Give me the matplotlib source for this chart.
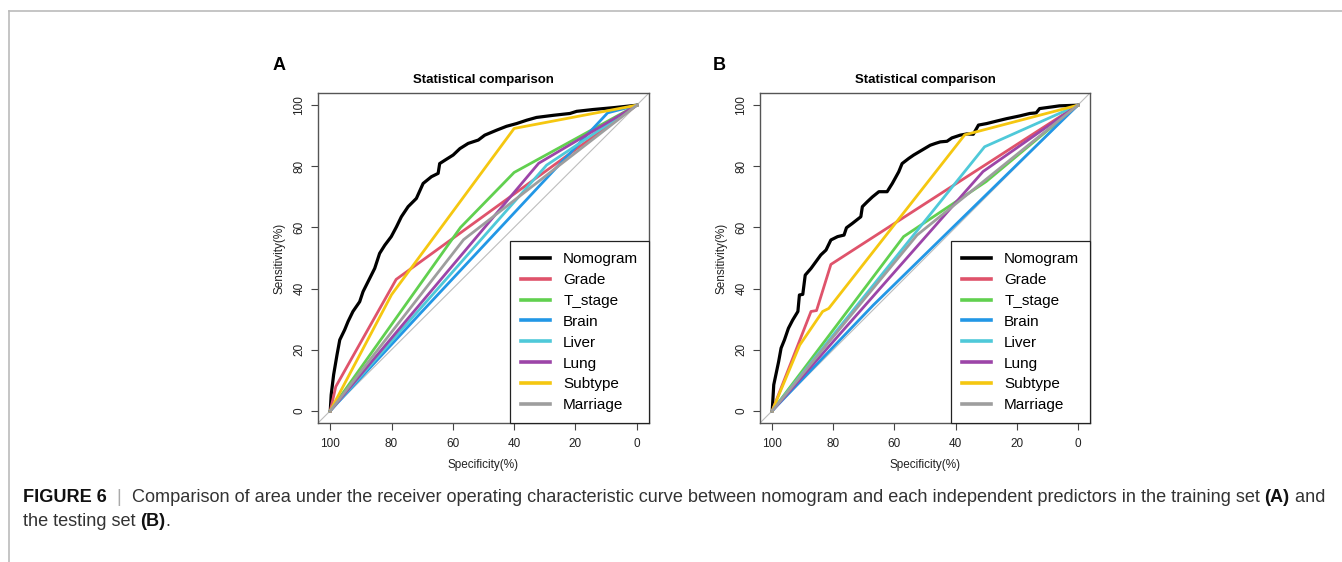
import matplotlib
matplotlib.use("Agg")
import matplotlib.pyplot as plt
from matplotlib.lines import Line2D

plt.rcParams['font.family'] = ['Liberation Sans', 'DejaVu Sans']

# ---- data (specificity %, sensitivity %) ----
labels = ['Nomogram', 'Grade', 'T_stage', 'Brain', 'Liver', 'Lung', 'Subtype', 'Marriage']
colors = ['#000000', '#DF536B', '#61D04F', '#2297E6', '#4FC9D9', '#9C45A8', '#F5C710', '#9E9E9E']

# training set (A)
spec_nom_a = [100, 99.7, 98.9, 97.8, 96.9, 95.3, 94.2, 92.6, 90.4, 89.3, 87.1, 85.5, 83.9, 82.2,
              80.1, 78.4, 76.8, 74.6, 71.9, 69.7, 67.0, 64.8, 64.3, 62.6, 59.9, 57.7, 55.0, 51.7,
              49.6, 45.8, 42.5, 39.2, 35.9, 32.7, 27.2, 21.8, 19.6, 14.2, 7.6, 0]
sens_nom_a = [0, 5.2, 11.8, 18.3, 23.2, 26.5, 29.2, 32.5, 35.7, 39.0, 43.4, 46.6, 51.5, 54.2,
              57.0, 60.2, 63.5, 66.8, 69.5, 74.4, 76.6, 77.7, 80.9, 82.0, 83.7, 85.8, 87.5, 88.6,
              90.2, 91.8, 93.1, 94.0, 95.1, 96.0, 96.7, 97.3, 98.0, 98.6, 99.2, 100]
spec_grade_a = [100, 98.2, 78.5, 0]
sens_grade_a = [0, 7.9, 43, 100]
spec_tstage_a = [100, 57.5, 40, 0]
sens_tstage_a = [0, 60, 78, 100]
spec_brain_a = [100, 70.5, 9.5, 0]
sens_brain_a = [0, 32, 97.5, 100]
spec_liver_a = [100, 29.4, 0]
sens_liver_a = [0, 80.4, 100]
spec_lung_a = [100, 32, 0]
sens_lung_a = [0, 81, 100]
spec_subtype_a = [100, 80, 40, 0]
sens_subtype_a = [0, 38, 92.4, 100]
spec_marriage_a = [100, 56.5, 0]
sens_marriage_a = [0, 56, 100]

# testing set (B)
spec_nom_b = [100, 99.5, 98.7, 97.9, 97.1, 96.0, 94.7, 93.3, 91.6, 91.1, 90.0, 89.2, 87.3, 85.7,
              84.1, 82.4, 80.8, 78.6, 76.5, 75.7, 73.8, 71.0, 70.5, 68.9, 67.2, 65.1, 62.4, 60.7,
              58.6, 57.5, 55.3, 53.7, 51.0, 48.3, 46.6, 45.0, 42.8, 41.2, 38.5, 36.3, 34.2, 32.5,
              29.8, 26.6, 23.3, 19.0, 15.7, 13.6, 12.5, 8.1, 6.0, 0]
sens_nom_b = [0, 8.5, 12.3, 16.1, 20.5, 23.2, 27.0, 29.7, 32.5, 37.9, 38.1, 44.4, 46.6, 48.8,
              51.0, 52.6, 55.9, 57.0, 57.5, 59.9, 61.3, 63.5, 66.8, 68.4, 70.0, 71.7, 71.7, 74.4,
              78.2, 80.9, 82.6, 83.7, 85.3, 86.9, 87.5, 88.0, 88.2, 89.3, 90.2, 90.6, 90.5, 93.5,
              94.0, 94.8, 95.6, 96.5, 97.3, 97.5, 98.9, 99.5, 99.8, 100]
spec_grade_b = [100, 87.3, 85.5, 80.8, 0]
sens_grade_b = [0, 32.5, 32.8, 47.9, 100]
spec_tstage_b = [100, 57, 30, 0]
sens_tstage_b = [0, 57, 75, 100]
spec_brain_b = [100, 67, 0]
sens_brain_b = [0, 34.5, 100]
spec_liver_b = [100, 30.5, 0]
sens_liver_b = [0, 86.4, 100]
spec_lung_b = [100, 31, 0]
sens_lung_b = [0, 78.3, 100]
spec_subtype_b = [100, 91, 83.5, 81.5, 37, 0]
sens_subtype_b = [0, 21.5, 32.5, 33.5, 90.3, 100]
spec_marriage_b = [100, 52.6, 0]
sens_marriage_b = [0, 57.5, 100]

curves_a = [(spec_nom_a, sens_nom_a), (spec_grade_a, sens_grade_a), (spec_tstage_a, sens_tstage_a),
            (spec_brain_a, sens_brain_a), (spec_liver_a, sens_liver_a), (spec_lung_a, sens_lung_a),
            (spec_subtype_a, sens_subtype_a), (spec_marriage_a, sens_marriage_a)]
curves_b = [(spec_nom_b, sens_nom_b), (spec_grade_b, sens_grade_b), (spec_tstage_b, sens_tstage_b),
            (spec_brain_b, sens_brain_b), (spec_liver_b, sens_liver_b), (spec_lung_b, sens_lung_b),
            (spec_subtype_b, sens_subtype_b), (spec_marriage_b, sens_marriage_b)]

ticks = [0, 20, 40, 60, 80, 100]

W, H = 1342, 562
fig = plt.figure(figsize=(W / 100, H / 100), dpi=100)


def px_axes(left, top, right, bottom):
    return fig.add_axes([left / W, 1 - bottom / H, (right - left) / W, (bottom - top) / H])


def roc_panel(ax, curves, letter, letter_x):
    ax.set_xlim(104, -4)
    ax.set_ylim(-4, 104)
    ax.axline((100, 0), (0, 100), color='#BDBDBD', lw=0.8, zorder=1)
    for (sp, se), c, lab in zip(curves, colors, labels):
        lw = 2.3 if lab == 'Nomogram' else 2.0
        ax.plot(sp, se, color=c, lw=lw, label=lab, solid_joinstyle='round', zorder=2)
    ax.set_xticks(ticks)
    ax.set_yticks(ticks)
    ax.tick_params(direction='out', length=5, width=0.8, color='#444444',
                   labelsize=8.5, labelcolor='#222222')
    ax.tick_params(axis='x', pad=6)
    ax.tick_params(axis='y', pad=4)
    for t in ax.get_yticklabels():
        t.set_rotation(90)
        t.set_va('center')
    for s in ax.spines.values():
        s.set_color('#555555')
        s.set_linewidth(1.0)
    ax.set_xlabel('Specificity(%)', fontsize=8.5, color='#222222', labelpad=6)
    ax.set_ylabel('Sensitivity(%)', fontsize=8.5, color='#222222', labelpad=6)
    ax.set_title('Statistical comparison', fontsize=9.5, fontweight='bold', pad=7)
    leg = ax.legend(loc='lower right', bbox_to_anchor=(1, 0), borderaxespad=0,
                    frameon=True, fancybox=False, edgecolor='#222222', framealpha=1,
                    fontsize=11, handlelength=1.9, handletextpad=0.85,
                    labelspacing=0.45, borderpad=0.7)
    leg.get_frame().set_linewidth(0.9)
    for ln in leg.get_lines():
        ln.set_linewidth(2.6)
    fig.text(letter_x / W, 1 - 66 / H, letter, fontsize=13, fontweight='bold',
             ha='center', va='center')


ax_a = px_axes(318, 93, 649, 423)
roc_panel(ax_a, curves_a, 'A', 279)
ax_b = px_axes(760, 93, 1090, 423)
roc_panel(ax_b, curves_b, 'B', 719)

# page frame lines
fig.add_artist(Line2D([9 / W, 1], [1 - 10.5 / H] * 2, color='#BBBBBB', lw=1.2))
fig.add_artist(Line2D([9 / W] * 2, [1 - 10.5 / H, 0], color='#BBBBBB', lw=1.2))

# caption with mixed weights
line1 = [('FIGURE 6', 'bold', '#111111'), ('  |  ', 'normal', '#AAAAAA'),
         ('Comparison of area under the receiver operating characteristic curve between nomogram '
          'and each independent predictors in the training set ', 'normal', '#333333'),
         ('(A)', 'bold', '#111111'), (' and', 'normal', '#333333')]
line2 = [('the testing set ', 'normal', '#333333'), ('(B)', 'bold', '#111111'),
         ('.', 'normal', '#333333')]

renderer = fig.canvas.get_renderer()


def draw_line(pieces, x0, y, size):
    x = x0
    arts = []
    for txt, wt, col in pieces:
        t = fig.text(x / W, 1 - y / H, txt, fontsize=size, fontweight=wt, color=col,
                     ha='left', va='center')
        bb = t.get_window_extent(renderer)
        x += bb.width
        arts.append(t)
    return x, arts


# fit the first caption line to the width seen in the figure (23 -> 1333 px)
end, arts = draw_line(line1, 23, 497, 10)
for a in arts:
    a.remove()
size = 10 * (1333 - 23) / (end - 23)
draw_line(line1, 23, 497, size)
draw_line(line2, 23, 521, size)

fig.savefig('out.png', dpi=100)
